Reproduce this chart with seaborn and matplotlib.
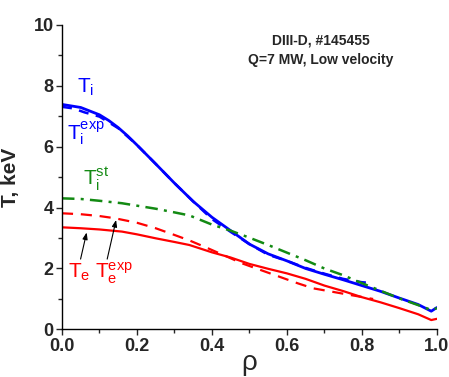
import matplotlib
matplotlib.use("Agg")
import matplotlib.pyplot as plt
import seaborn as sns

# radial grids and profiles (keV)
rho_ti = [0, 0.05, 0.1, 0.125, 0.15, 0.175, 0.2, 0.25, 0.3, 0.35, 0.4, 0.45,
          0.5, 0.55, 0.6, 0.65, 0.7, 0.75, 0.8, 0.85, 0.9, 0.95, 0.985, 1.0]
ti = [7.38, 7.28, 7.04, 6.85, 6.62, 6.35, 6.05, 5.43, 4.8, 4.2, 3.68, 3.24,
      2.8, 2.48, 2.25, 2.0, 1.81, 1.63, 1.44, 1.25, 1.03, 0.82, 0.6, 0.72]

rho_ti_exp = [0, 0.03, 0.06, 0.1, 0.15, 0.2, 0.25, 0.3, 0.35, 0.4, 0.45, 0.5,
              0.55, 0.6, 0.65, 0.7, 0.75, 0.8, 0.83]
ti_exp = [7.3, 7.25, 7.12, 6.98, 6.6, 6.05, 5.43, 4.8, 4.2, 3.62, 3.2, 2.8,
          2.45, 2.25, 2.02, 1.83, 1.66, 1.55, 1.52]

rho_ti_st = [0, 0.05, 0.1, 0.16, 0.2, 0.25, 0.3, 0.34, 0.4, 0.45, 0.5, 0.55,
             0.6, 0.65, 0.7, 0.75, 0.8, 0.85, 0.9, 0.95, 0.985, 1.0]
ti_st = [4.30, 4.28, 4.22, 4.14, 4.06, 3.96, 3.84, 3.74, 3.44, 3.24, 3.01, 2.77,
         2.52, 2.27, 2.0, 1.78, 1.52, 1.27, 1.02, 0.8, 0.64, 0.7]

rho_te = [0, 0.05, 0.1, 0.16, 0.2, 0.25, 0.3, 0.34, 0.4, 0.45, 0.5, 0.55,
          0.6, 0.65, 0.7, 0.75, 0.8, 0.85, 0.9, 0.95, 0.985, 1.0]
te = [3.35, 3.32, 3.28, 3.21, 3.12, 2.99, 2.87, 2.77, 2.53, 2.36, 2.15, 1.99,
      1.84, 1.66, 1.44, 1.26, 1.06, 0.89, 0.70, 0.50, 0.31, 0.35]

rho_te_exp = [0, 0.05, 0.1, 0.14, 0.2, 0.25, 0.3, 0.34, 0.39, 0.44, 0.48,
              0.53, 0.58, 0.63, 0.67, 0.72, 0.77, 0.83]
te_exp = [3.81, 3.78, 3.72, 3.65, 3.5, 3.32, 3.1, 2.92, 2.66, 2.39, 2.17,
          1.95, 1.73, 1.51, 1.35, 1.24, 1.13, 1.0]

BLUE = "#0000ff"
GREEN = "#138a13"
RED = "#ff0000"

sns.set_style("ticks")
plt.rcParams["font.family"] = ["Liberation Sans", "DejaVu Sans"]
plt.rcParams["mathtext.fontset"] = "custom"
plt.rcParams["mathtext.rm"] = "Liberation Sans"
plt.rcParams["mathtext.it"] = "Liberation Sans:italic"

fig = plt.figure(figsize=(4.49, 3.77), dpi=100)
ax = fig.add_axes([0.138, 0.126, 0.835, 0.809])

sns.lineplot(x=rho_ti, y=ti, color=BLUE, lw=2.0, ax=ax)
sns.lineplot(x=rho_ti_exp, y=ti_exp, color=BLUE, lw=1.8, ax=ax,
             linestyle=(0, (4, 3)))
sns.lineplot(x=rho_ti_st, y=ti_st, color=GREEN, lw=1.8, ax=ax,
             linestyle=(0, (5, 2.5, 1.2, 2.5)))
sns.lineplot(x=rho_te, y=te, color=RED, lw=1.6, ax=ax)
sns.lineplot(x=rho_te_exp, y=te_exp, color=RED, lw=1.6, ax=ax,
             linestyle=(0, (5, 3.5)))

ax.set_xlim(0, 1.0)
ax.set_ylim(0, 10)
ax.set_xticks([0, 0.2, 0.4, 0.6, 0.8, 1.0])
ax.set_xticks([0.1, 0.3, 0.5, 0.7, 0.9], minor=True)
ax.set_yticks([0, 2, 4, 6, 8, 10])
ax.set_yticks([1, 3, 5, 7, 9], minor=True)
ax.set_xticklabels(["0.0", "0.2", "0.4", "0.6", "0.8", "1.0"])
ax.tick_params(axis="both", which="major", direction="out", length=4,
               width=1, labelsize=13, pad=2)
ax.tick_params(axis="both", which="minor", direction="out", length=3, width=1)
for lab in ax.get_xticklabels() + ax.get_yticklabels():
    lab.set_fontweight("bold")

for s in ["left", "bottom"]:
    ax.spines[s].set_linewidth(1.0)
    ax.spines[s].set_color("black")
sns.despine(ax=ax)

ax.set_ylabel("T, keV", fontsize=15, fontweight="bold")
ax.yaxis.set_label_coords(-0.112, 0.5)
ax.set_xlabel("ρ", fontsize=20)
ax.xaxis.set_label_coords(0.5, -0.068)

ax.text(0.69, 9.33, "DIII-D, #145455", fontsize=10, fontweight="bold",
        ha="center", va="baseline")
ax.text(0.69, 8.7, "Q=7 MW, Low velocity", fontsize=10, fontweight="bold",
        ha="center", va="baseline")

ax.text(0.04, 7.75, r"$\mathregular{T_i}$", color=BLUE, fontsize=15, va="baseline")
ax.text(0.013, 6.2, r"$\mathregular{T_i^{exp}}$", color=BLUE, fontsize=15, va="baseline")
ax.text(0.056, 4.74, r"$\mathregular{T_i^{st}}$", color=GREEN, fontsize=15, va="baseline")
ax.text(0.016, 1.69, r"$\mathregular{T_e}$", color=RED, fontsize=15, va="baseline")
ax.text(0.088, 1.69, r"$\mathregular{T_e^{exp}}$", color=RED, fontsize=15, va="baseline")

arrow = dict(arrowstyle="-|>,head_length=0.4,head_width=0.15", color="black", lw=0.8)
ax.annotate("", xy=(0.0675, 3.27), xytext=(0.048, 2.22), arrowprops=arrow)
ax.annotate("", xy=(0.146, 3.68), xytext=(0.119, 2.22), arrowprops=arrow)

fig.savefig("out.png", dpi=100)
